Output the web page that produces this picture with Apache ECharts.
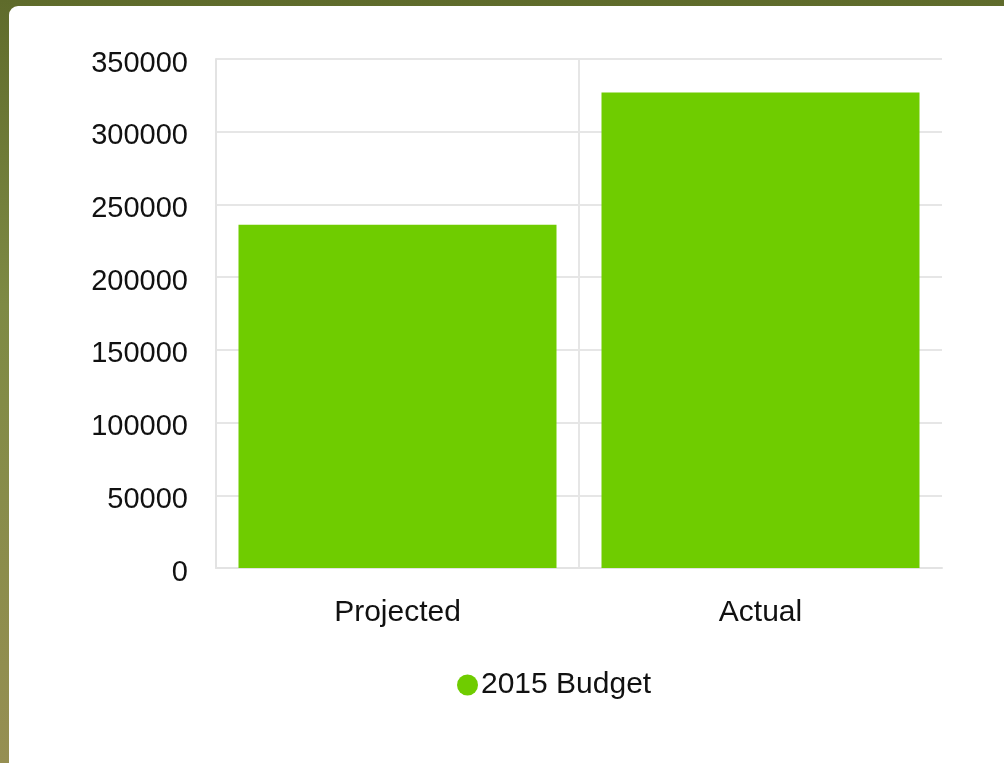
<!DOCTYPE html>
<html>
<head>
<meta charset="utf-8">
<script src="https://cdn.jsdelivr.net/npm/echarts@6/dist/echarts.min.js"></script>
<style>
html,body{margin:0;padding:0;width:1004px;height:763px;overflow:hidden;}
body{background:linear-gradient(to bottom,#5f6b2b 0%,#7e8a44 40%,#968f52 100%);position:relative;}
#panel{position:absolute;left:9px;top:6px;width:1010px;height:780px;background:#fff;border-radius:9px;}
#chart{position:absolute;left:0;top:0;width:1004px;height:763px;}
</style>
</head>
<body>
<div id="panel"></div>
<div id="chart"></div>
<script>
var categories = ['Projected', 'Actual'];
var budget2015 = [236000, 327000];
var yTicks = [0, 50000, 100000, 150000, 200000, 250000, 300000, 350000];
var seriesName = '2015 Budget';

var chart = echarts.init(document.getElementById('chart'), null, {renderer: 'canvas'});
var font = 'Liberation Sans, Arial, sans-serif';
chart.setOption({
  backgroundColor: 'transparent',
  animation: false,
  grid: {left: 216, right: 62, top: 59, bottom: 195, containLabel: false},
  legend: {
    data: [seriesName],
    left: 452,
    top: 665,
    icon: 'circle',
    itemWidth: 21,
    itemHeight: 21,
    itemGap: 4,
    textStyle: {fontFamily: font, fontSize: 30, color: '#111', padding: [0, 0, 0, -2]}
  },
  xAxis: {
    type: 'category',
    data: categories,
    boundaryGap: true,
    axisLine: {show: true, lineStyle: {color: '#e3e3e3', width: 2}},
    axisTick: {show: false},
    splitLine: {show: true, lineStyle: {color: ['#e6e6e6', '#e6e6e6', 'rgba(0,0,0,0)'], width: 2}},
    axisLabel: {fontFamily: font, fontSize: 30, color: '#111', margin: 30}
  },
  yAxis: {
    type: 'value',
    min: yTicks[0],
    max: yTicks[yTicks.length - 1],
    interval: yTicks[1] - yTicks[0],
    axisLine: {show: true, lineStyle: {color: '#e3e3e3', width: 2}},
    axisTick: {show: false},
    splitLine: {show: true, lineStyle: {color: '#e6e6e6', width: 2}},
    axisLabel: {
      margin: 28,
      formatter: function (v) { return '{a|' + v + '}'; },
      rich: {a: {fontFamily: font, fontSize: 29, color: '#111', padding: [9, 0, 0, 0]}}
    }
  },
  series: [{
    name: seriesName,
    type: 'bar',
    data: budget2015,
    barWidth: 318,
    itemStyle: {color: '#6fcc00'}
  }]
});
</script>
</body>
</html>
